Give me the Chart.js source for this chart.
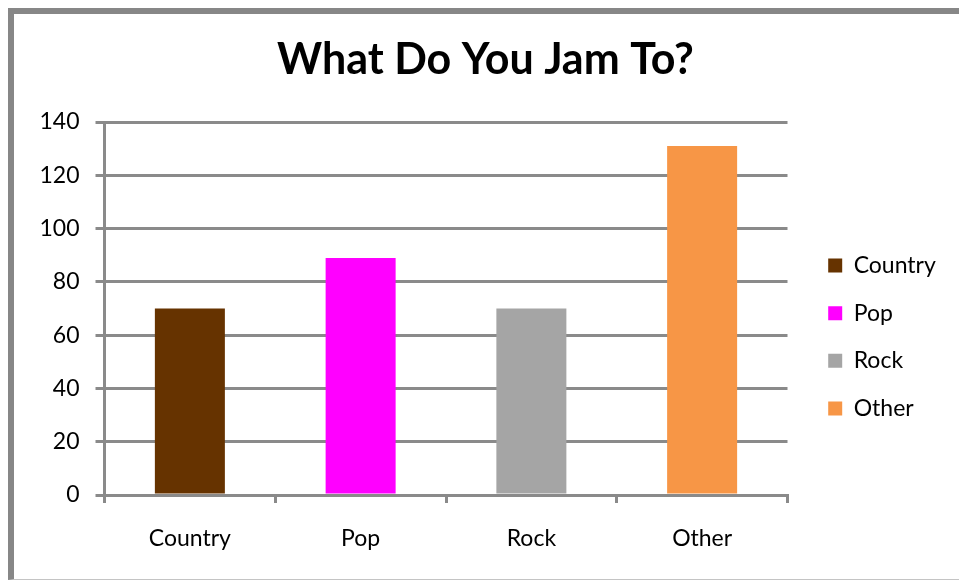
<!DOCTYPE html>
<html>
<head>
<meta charset="utf-8">
<script src="https://cdn.jsdelivr.net/npm/chart.js@4.4.1/dist/chart.umd.min.js"></script>
<style>
  html, body { margin: 0; padding: 0; background: #fff; overflow: hidden; }
  #wrap { position: relative; width: 959px; height: 580px; }
  #c { position: absolute; left: 0; top: 0; }
  #frame { position: absolute; left: 8px; top: 8px; width: 960px; height: 572px; box-sizing: border-box;
           border-top: 6px solid #878787; border-left: 6px solid #878787; border-bottom: 1px solid #c4c4c4; pointer-events: none; }
</style>
</head>
<body>
<div id="wrap">
  <canvas id="c" width="959" height="580"></canvas>
  <div id="frame"></div>
</div>
<script>
const chartTitle = "What Do You Jam To?";
const categories = ["Country", "Pop", "Rock", "Other"];
const values = [70, 89, 70, 131];
const barColors = ["#663300", "#FF00FF", "#A5A5A5", "#F79646"];
const yTicks = { min: 0, max: 140, step: 20 };

const GRID = "#8a8a8a";
const FONT = "Lato, 'Open Sans', sans-serif";
const LEGEND_W = 145;

const legendNudge = {
  id: 'legendNudge',
  afterLayout(chart) {
    const lg = chart.legend;
    if (lg) { lg.left += 16; lg.right += 16; lg.top += 47; lg.bottom += 47; }
  }
};

const chart = new Chart(document.getElementById('c'), {
  type: 'bar',
  data: {
    labels: categories,
    datasets: [{
      label: chartTitle,
      data: values,
      backgroundColor: barColors,
      borderWidth: 0,
      categoryPercentage: 1,
      barPercentage: 0.41
    }]
  },
  options: {
    responsive: false,
    animation: false,
    devicePixelRatio: 1,
    layout: { padding: { left: 38.5, right: 26.5, top: 0, bottom: 0 } },
    plugins: {
      tooltip: { enabled: false },
      title: {
        display: true,
        text: chartTitle,
        color: '#000',
        font: { family: FONT, size: 43, weight: 'bold', lineHeight: 1.2 },
        padding: { top: 34.2, bottom: 36.2 }
      },
      legend: {
        display: true,
        position: 'right',
        labels: {
          boxWidth: 14,
          boxHeight: 14,
          padding: 24.7,
          color: '#000',
          font: { family: FONT, size: 23 },
          generateLabels() {
            return categories.map((c, i) => ({
              text: c, fillStyle: barColors[i], strokeStyle: barColors[i], lineWidth: 0, hidden: false, index: i
            }));
          }
        }
      }
    },
    scales: {
      x: {
        afterFit(s) { s.height = 85; },
        grid: { display: true, drawOnChartArea: false, drawTicks: true, tickLength: 8, color: GRID, lineWidth: 3, offset: true },
        border: { display: true, color: GRID, width: 3 },
        ticks: { color: '#000', font: { family: FONT, size: 23 }, padding: 22 }
      },
      y: {
        min: yTicks.min, max: yTicks.max,
        afterFit(s) { s.width = 66; },
        grid: { color: GRID, lineWidth: 3, tickLength: 9, drawTicks: true },
        border: { display: true, color: GRID, width: 3 },
        ticks: { stepSize: yTicks.step, color: '#000', font: { family: FONT, size: 23 }, padding: 16 }
      }
    }
  },
  plugins: [legendNudge]
});
// fix legend width so the plot area right edge matches the reference
const lg = chart.legend;
const origFit = lg.fit.bind(lg);
lg.fit = function () { origFit(); this.width = LEGEND_W; };
chart.update();
</script>
</body>
</html>
